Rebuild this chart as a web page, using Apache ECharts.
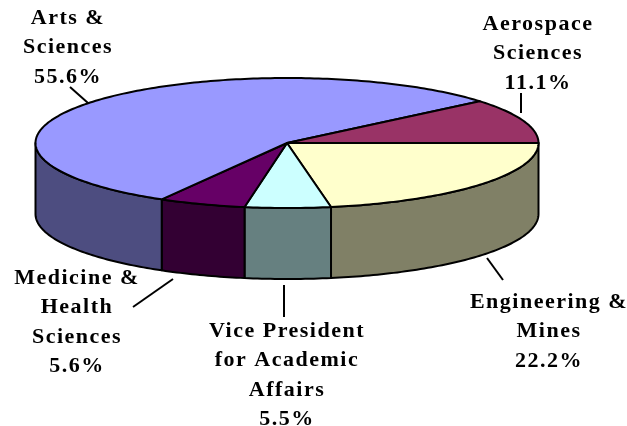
<!DOCTYPE html>
<html>
<head>
<meta charset="utf-8">
<style>html,body{margin:0;padding:0;background:#fff}#c{width:627px;height:426px}</style>
<script src="https://cdn.jsdelivr.net/npm/echarts@6/dist/echarts.min.js"></script>
</head>
<body>
<div id="c"></div>
<script>
var categories = ['Engineering &\nMines', 'Vice President\nfor Academic\nAffairs', 'Medicine &\nHealth\nSciences', 'Arts &\nSciences', 'Aerospace\nSciences'];
var shares = [22.2, 5.5, 5.6, 55.6, 11.1];
var topColors = ['#FFFFCC', '#CCFFFF', '#660066', '#9999FF', '#993366'];
var sideColors = ['#808066', '#668080', '#330033', '#4D4D80', '#4D1A33'];

// Layout only: pie geometry and annotation placement, in pixels
var pie = { cx: 287, cy: 143, rx: 251.5, ry: 65, depth: 71 };
var labelCentres = [[549, 287.5], [287, 316.5], [77, 263.5], [68, 3.5], [538, 9.5]];
var leaders = [
  [[487, 258], [503, 280]],
  [[284, 285], [284, 317]],
  [[173, 279], [133, 307]],
  [[88, 103], [70, 87]],
  [[521, 113], [521, 93]]
];

// The reference's labels are letter-spaced; the canvas context carries that setting
var nativeGetContext = HTMLCanvasElement.prototype.getContext;
HTMLCanvasElement.prototype.getContext = function (kind, opts) {
  var ctx = nativeGetContext.call(this, kind, opts);
  if (kind === '2d' && ctx) ctx.letterSpacing = '1.5px';
  return ctx;
};

var total = shares.reduce(function (a, b) { return a + b; }, 0);
function rimPoint(deg, drop) {
  var r = deg * Math.PI / 180;
  return [pie.cx + pie.rx * Math.cos(r), pie.cy + pie.ry * Math.sin(r) + (drop || 0)];
}
function arc(from, to, drop) {
  var pts = [], n = Math.max(2, Math.ceil(Math.abs(to - from)));
  for (var i = 0; i <= n; i++) pts.push(rimPoint(from + (to - from) * i / n, drop));
  return pts;
}
var line = { stroke: '#000', lineWidth: 2, lineJoin: 'round' };

function renderItem(params, api) {
  var i = params.dataIndex, before = 0;
  for (var k = 0; k < i; k++) before += shares[k];
  var a0 = before / total * 360;
  var a1 = a0 + api.value(0) / total * 360;
  var children = [];

  var w0 = Math.max(a0, 0), w1 = Math.min(a1, 180);
  if (w1 > w0) {
    children.push({
      type: 'polygon', z2: 1,
      shape: { points: arc(w0, w1, 0).concat(arc(w1, w0, pie.depth)) },
      style: Object.assign({ fill: sideColors[i] }, line)
    });
  }
  children.push({
    type: 'polygon', z2: 2,
    shape: { points: [[pie.cx, pie.cy]].concat(arc(a0, a1, 0)) },
    style: Object.assign({ fill: topColors[i] }, line)
  });
  children.push({
    type: 'line', z2: 3,
    shape: { x1: leaders[i][0][0], y1: leaders[i][0][1], x2: leaders[i][1][0], y2: leaders[i][1][1] },
    style: { stroke: '#000', lineWidth: 2 }
  });
  children.push({
    type: 'text', z2: 4,
    x: labelCentres[i][0], y: labelCentres[i][1],
    style: {
      text: categories[i] + '\n' + api.value(0).toFixed(1) + '%',
      fill: '#000',
      font: 'bold 22px "Liberation Serif", serif',
      lineHeight: 29.5,
      align: 'center',
      verticalAlign: 'top'
    }
  });
  return { type: 'group', children: children };
}

var chart = echarts.init(document.getElementById('c'));
chart.setOption({
  animation: false,
  backgroundColor: '#fff',
  series: [{
    type: 'custom',
    coordinateSystem: 'none',
    silent: true,
    renderItem: renderItem,
    data: shares.map(function (v) { return [v]; })
  }]
});
</script>
</body>
</html>
